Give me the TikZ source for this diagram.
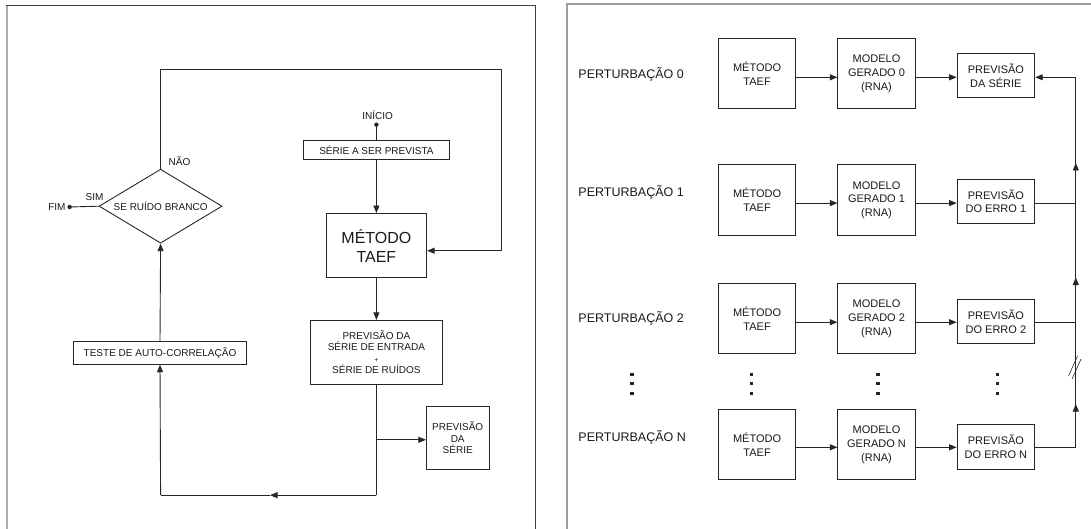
\documentclass[tikz,border=0pt]{standalone}
\usepackage{fontspec}
\setmainfont{Liberation Sans}
\usetikzlibrary{arrows.meta,shapes.geometric}
\begin{document}
\begin{tikzpicture}[x=1pt,y=-1pt,line width=0.9pt,
  ln/.style={draw=black!85,line width=0.9pt},
  arr/.style={ln,-{Triangle[length=7.5pt,width=6pt]}},
  box/.style={draw=black!85,line width=0.9pt,inner sep=0pt,align=center,text=black!90},
  lbox/.style={box,font=\fontsize{10}{11.6}\selectfont},
  rbig/.style={box,minimum width=77.3pt,minimum height=70.2pt,font=\fontsize{11}{13.6}\selectfont},
  rprev/.style={box,minimum width=77.7pt,minimum height=44.3pt,font=\fontsize{11}{13.6}\selectfont},
  lbl/.style={inner sep=0pt,text=black!90,font=\fontsize{10}{12}\selectfont},
  plabel/.style={inner sep=0pt,anchor=west,text=black!90,font=\fontsize{12.5}{14}\selectfont},
  vdot/.style={fill=black!85,minimum size=3.2pt,inner sep=0pt}
]
\useasboundingbox (0,0) rectangle (1091,529);
% panel frames
\draw[gray!65,line width=2pt] (7,529) -- (7,6);
\draw[black!75,line width=1pt] (6,6) -- (535,6) -- (535,529);
\draw[gray!75,line width=2pt] (567,529) -- (567,4) -- (1091,4);

% ---------- left panel ----------
\coordinate (ini) at (376.4,124.7);
\fill[black!85] (ini) circle (2.2);
\node[lbl] (initxt) at (377.7,115.5) {INÍCIO};
\node[lbox,minimum width=146.4pt,minimum height=18.9pt] (serie) at (376.4,150) {SÉRIE A SER PREVISTA};
\node[box,minimum width=100.6pt,minimum height=64.4pt,font=\fontsize{16}{19}\selectfont] (taef) at (376.4,245.7) {MÉTODO\\TAEF};
\node[lbox,minimum width=131.2pt,minimum height=63.7pt] (prev) at (376.4,352.2)
  {PREVISÃO DA\\SÉRIE DE ENTRADA\\{\fontsize{7}{9}\selectfont +}\\SÉRIE DE RUÍDOS};
\node[lbox,minimum width=62.7pt,minimum height=62.7pt] (pds) at (457.7,437.7) {PREVISÃO\\DA\\SÉRIE};
\node[lbox,minimum width=173.3pt,minimum height=23pt] (teste) at (160,352.8) {TESTE DE AUTO-CORRELAÇÃO};
\node[box,diamond,shape aspect=1.66,minimum width=123pt,minimum height=74pt,font=\fontsize{10}{12}\selectfont] (dia) at (160.6,206.2) {SE RUÍDO BRANCO};
\coordinate (fim) at (69.6,207);
\fill[black!85] (fim) circle (2.2);
\node[lbl,anchor=east] (fimtxt) at (66,207.4) {FIM};
\node[lbl] (sim) at (94.5,197.3) {SIM};
\node[lbl] (nao) at (179.5,160.8) {NÃO};

\coordinate (c1) at (376.4,495.2);
\coordinate (cm) at (270,495.2);
\coordinate (c2) at (160.6,495.2);
\coordinate (br) at (376.4,439.8);
\coordinate (c3) at (160.6,69.6);
\coordinate (c4) at (501.7,69.6);
\coordinate (c5) at (501.7,250.7);

\draw[ln] (ini) -- (serie.north);
\draw[arr] (serie.south) -- (taef.north);
\draw[arr] (taef.south) -- (prev.north);
\draw[ln] (prev.south) -- (c1);
\draw[arr] (br) -- (pds.west|-br);
\draw[arr] (c1) -- (cm);
\draw[ln] (cm) -- (c2);
\draw[arr] (c2) -- (teste.south);
\draw[arr] (teste.north) -- (dia.south);
\draw[ln] (dia.north) -- (c3) -- (c4) -- (c5);
\draw[arr] (c5) -- (taef.east|-c5);
\draw[ln] (fim) -- (dia.west);

% ---------- right panel ----------
\foreach \n/\yb/\yp/\ya/\yl/\pt in {
  0/73.8/75.5/77.3/74.8/{DA SÉRIE},
  1/199.9/201.4/203.1/192.6/{DO ERRO 1},
  2/318.7/321.5/322.2/318/{DO ERRO 2},
  N/444.8/446.9/447.3/437.4/{DO ERRO N}}{
  \node[plabel] (lab\n) at (578,\yl) {PERTURBAÇÃO \n};
  \node[rbig] (m\n) at (757.1,\yb) {MÉTODO\\TAEF};
  \node[rbig] (g\n) at (876.5,\yb) {MODELO\\GERADO \n\\(RNA)};
  \node[rprev] (p\n) at (995.9,\yp) {PREVISÃO\\\pt};
  \coordinate (r\n) at (900,\ya);
  \coordinate (v\n) at (1075.8,\ya);
  \draw[arr] (m\n.east|-r\n) -- (g\n.west|-r\n);
  \draw[arr] (g\n.east|-r\n) -- (p\n.west|-r\n);
}
\draw[ln] (pN.east|-rN) -- (vN) -- (v0);
\draw[arr] (v0) -- (p0.east|-r0);
\draw[ln] (p1.east|-r1) -- (v1);
\draw[ln] (p2.east|-r2) -- (v2);
\coordinate (a1) at (1075.8,163);
\coordinate (a2) at (1075.8,277.5);
\coordinate (aN) at (1075.8,404);
\draw[arr] (v1) -- (a1);
\draw[arr] (v2) -- (a2);
\draw[arr] (vN) -- (aN);
% break marks
\draw[ln,line width=0.6pt] (1068.5,376) -- (1077.5,356);
\draw[ln,line width=0.6pt] (1072,379) -- (1081,359);
% vertical ellipses
\foreach \x/\k in {632/a,751.5/b,878/c,997.5/d}{
  \node[vdot] (dt\k1) at (\x,374.2) {};
  \node[vdot] (dt\k2) at (\x,383.8) {};
  \node[vdot] (dt\k3) at (\x,393.5) {};
}
\end{tikzpicture}
\end{document}
